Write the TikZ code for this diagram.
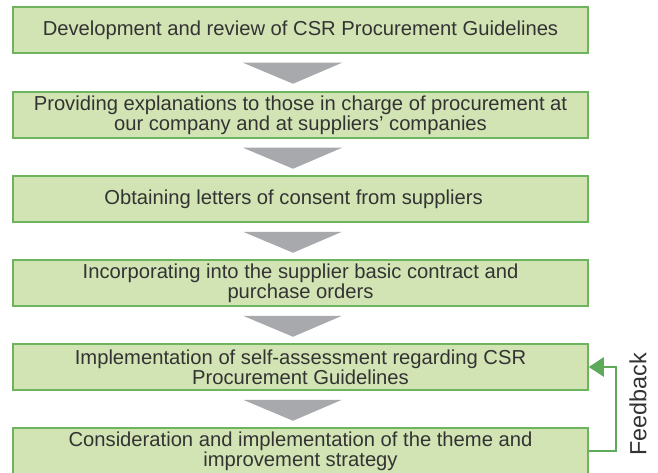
\documentclass[tikz,border=0pt]{standalone}
\usepackage{fontspec}
\setmainfont{Liberation Sans}
\usetikzlibrary{arrows.meta,calc}
\definecolor{boxfill}{RGB}{210,228,180}
\definecolor{boxline}{RGB}{110,180,95}
\definecolor{fbgreen}{RGB}{92,170,90}
\definecolor{trigray}{RGB}{167,169,172}
\definecolor{txt}{RGB}{51,51,51}
\tikzset{
  stepbox/.style={draw=boxline, fill=boxfill, line width=1.5pt, minimum width=575pt, minimum height=46pt,
    inner sep=0pt, align=center, text=txt, font=\fontsize{20.2pt}{20pt}\selectfont},
  downtri/.style={fill=trigray},
  fbline/.style={draw=fbgreen, line width=2.5pt, -{Triangle[length=15pt,width=19pt]}},
}
\begin{document}
\begin{tikzpicture}[x=1pt,y=-1pt]
\useasboundingbox (0,0) rectangle (658,473);
\node[stepbox] (b1) at (300.5,30) {Development and review of CSR Procurement Guidelines};
\node[stepbox] (b2) at (300.5,115) {Providing explanations to those in charge of procurement at\\our company and at suppliers’ companies};
\node[stepbox] (b3) at (300.5,199) {Obtaining letters of consent from suppliers\hspace*{14pt}};
\node[stepbox] (b4) at (300.5,283) {Incorporating into the supplier basic contract and\\purchase orders};
\node[stepbox] (b5) at (300.5,367) {Implementation of self-assessment regarding CSR\\Procurement Guidelines};
\node[stepbox] (b6) at (300.5,451) {Consideration and implementation of the theme and\\improvement strategy};
\foreach \a/\b in {b1/b2,b2/b3,b3/b4,b4/b5,b5/b6}{
  \fill[downtri] ($(\a.south)+(-57.5,9)$) -- ($(\a.south)+(41.5,9)$) -- ($(\a.south)+(-7.5,30)$) -- cycle;
}
\draw[fbline] (b6.east) -- ++(27,0) |- (b5.east);
\node[rotate=90, text=txt, font=\fontsize{23.4pt}{24pt}\selectfont] (fb) at (638,404) {Feedback};
\end{tikzpicture}
\end{document}
